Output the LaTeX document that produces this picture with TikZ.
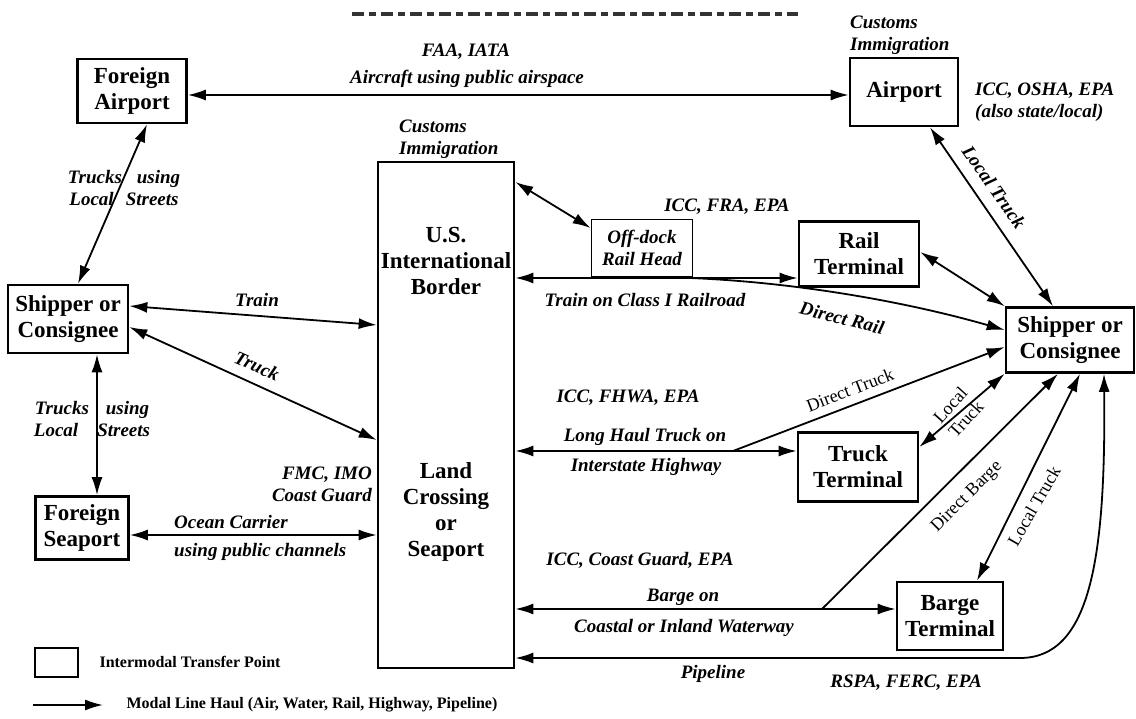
\documentclass[tikz,border=0pt]{standalone}
\usepackage{fontspec}
\setmainfont{Liberation Serif}
\usetikzlibrary{arrows.meta}
\newcommand{\boxfont}{\fontsize{23}{26}\selectfont\bfseries}
\newcommand{\modefont}{\fontsize{19}{22}\selectfont\bfseries\itshape}
\newcommand{\agencyfont}{\fontsize{19}{22}\selectfont\bfseries\itshape}
\newcommand{\plainfont}{\fontsize{18}{21}\selectfont}
\newcommand{\keyfont}{\fontsize{16}{18}\selectfont\bfseries}
\tikzset{
  hub/.style={draw,line width=2.6pt,fill=white,align=center,font=\boxfont,inner sep=0pt},
  haul/.style={line width=1.8pt,{Latex[length=18pt,width=11pt]}-{Latex[length=18pt,width=11pt]}},
  one/.style={line width=1.8pt,-{Latex[length=18pt,width=11pt]}},
  mode/.style={font=\modefont,align=center,inner sep=1pt},
  agency/.style={font=\agencyfont,align=center,inner sep=1pt},
  side/.style={font=\plainfont,align=center,inner sep=1pt}}

\begin{document}
\begin{tikzpicture}[x=1pt,y=-1pt]
  \useasboundingbox (0,0) rectangle (1136,719);
  \draw[line width=4.5pt,dash pattern=on 12pt off 5pt on 7pt off 5pt,black!80] (352,14) -- (798,14);
  % transfer points
  \node[hub,minimum width=109pt,minimum height=64pt] (fairport) at (132,91) {Foreign\\Airport};
  \node[hub,minimum width=108pt,minimum height=68pt] (airport) at (904,92) {Airport};
  \node[hub,minimum width=120pt,minimum height=68pt] (lship) at (68,319) {Shipper or\\Consignee};
  \node[hub,minimum width=93pt,minimum height=63pt] (fseaport) at (82,528) {Foreign\\Seaport};
  \node[hub,minimum width=136pt,minimum height=506pt] (border) at (446,415) {};
  \node[font=\boxfont,align=center] (usborder) at (446,261) {U.S.\\International\\Border};
  \node[font=\boxfont,align=center] (landsea) at (446,512) {Land\\Crossing\\or\\Seaport};
  \node[hub,line width=1.8pt,font=\modefont,minimum width=101pt,minimum height=57pt] (offdock) at (642,248) {Off-dock\\Rail Head};
  \node[hub,minimum width=120pt,minimum height=65pt] (rail) at (859,254) {Rail\\Terminal};
  \node[hub,minimum width=128pt,minimum height=65pt] (rship) at (1070,340) {Shipper or\\Consignee};
  \node[hub,minimum width=120pt,minimum height=69pt] (truckt) at (858,467) {Truck\\Terminal};
  \node[hub,minimum width=106pt,minimum height=68pt] (barget) at (950,616) {Barge\\Terminal};
  % line haul
  \draw[haul] (fairport.east |- 0,95) -- (airport.west |- 0,95);
  \draw[haul] (fairport.south -| 147,0) -- (lship.north -| 78,0);
  \draw[haul] (lship.east |- 0,306) -- (border.west |- 0,325);
  \draw[haul] (lship.east |- 0,327) -- (border.west |- 0,440);
  \draw[haul] (lship.south -| 97,0) -- (fseaport.north -| 97,0);
  \draw[haul] (fseaport.east |- 0,535) -- (border.west |- 0,535);
  \draw[haul] (border.east |- 0,182) -- (offdock.west |- 0,228);
  \draw[haul] (border.east |- 0,278) -- (rail.west |- 0,278);
  \coordinate (drs) at (690,278);
  \draw[one] (drs) .. controls (790,282) and (900,300) .. (rship.west |- 0,330);
  \draw[haul] (rail.east |- 0,252) -- (rship.north west);
  \draw[haul] (airport.south -| 930,0) -- (rship.north -| 1053,0);
  \draw[haul] (border.east |- 0,451) -- (truckt.west |- 0,451);
  \coordinate (dts) at (733,451);
  \draw[one] (dts) -- (rship.west |- 0,347);
  \draw[haul] (truckt.east |- 0,447) -- (rship.south west);
  \draw[haul] (border.east |- 0,609) -- (barget.west |- 0,609);
  \coordinate (dbs) at (822,609);
  \draw[one] (dbs) -- (rship.south -| 1058,0);
  \draw[haul] (rship.south -| 1080,0) -- (barget.north -| 977,0);
  \draw[haul] (rship.south -| 1104,0) .. controls (1106,560) and (1090,658) .. (1020,658) -- (border.east |- 0,658);
  % labels
  \node[agency] (faa) at (466,52) {FAA, IATA};
  \node[mode] (aircraft) at (467,79) {Aircraft using public airspace};
  \node[mode,anchor=west,align=left] (custA) at (849,35) {Customs\\Immigration};
  \node[mode,anchor=west,align=left] (custB) at (398,139) {Customs\\Immigration};
  \node[agency,anchor=west,align=left] (icco) at (974,102) {ICC, OSHA, EPA\\(also state/local)};
  \node[mode,rotate=-55] (ltA) at (994,187) {Local Truck};
  \node[agency] (iccf) at (727,207) {ICC, FRA, EPA};
  \node[mode] (classone) at (645,300) {Train on Class I Railroad};
  \node[mode,rotate=-14] (drail) at (842,318) {Direct Rail};
  \node[mode] (trucksA) at (124,188) {Trucks\hspace{15pt}using\\Local\hspace{12pt}Streets};
  \node[mode] (train) at (257,300) {Train};
  \node[mode,rotate=-24] (truck) at (257,366) {Truck};
  \node[mode] (trucksB) at (92,419) {Trucks\hspace{17pt}using\\Local\hspace{19pt}Streets};
  \node[agency,anchor=east,align=right] (fmc) at (373,484) {FMC, IMO\\Coast Guard};
  \node[mode,anchor=west] (ocean) at (173,522) {Ocean Carrier};
  \node[mode,anchor=west] (channels) at (173,552) {using public channels};
  \node[agency] (iccw) at (628,398) {ICC, FHWA, EPA};
  \node[mode] (longhaul) at (645,437) {Long Haul Truck on};
  \node[mode] (interstate) at (646,467) {Interstate Highway};
  \node[side,rotate=21] (dtruck) at (850,390) {Direct Truck};
  \node[side,rotate=48] (ltB) at (958,412) {Local\\Truck};
  \node[side,rotate=45] (dbarge) at (967,497) {Direct Barge};
  \node[side,rotate=60] (ltC) at (1034,506) {Local Truck};
  \node[agency] (iccg) at (640,560) {ICC, Coast Guard, EPA};
  \node[mode] (bargeon) at (683,597) {Barge on};
  \node[mode] (coastal) at (684,628) {Coastal or Inland Waterway};
  \node[mode] (pipe) at (713,674) {Pipeline};
  \node[agency] (rspa) at (906,683) {RSPA, FERC, EPA};
  % key
  \node[draw,line width=2pt,minimum width=43pt,minimum height=29pt,inner sep=0pt] (keybox) at (56.5,662.5) {};
  \node[font=\keyfont,anchor=west] (keyboxtxt) at (96,662) {Intermodal Transfer Point};
  \coordinate (keyA) at (33,705);
  \coordinate (keyB) at (103,705);
  \draw[one] (keyA) -- (keyB);
  \node[font=\keyfont,anchor=west] (keyarrtxt) at (123,705) {Modal Line Haul (Air, Water, Rail, Highway, Pipeline)};
\end{tikzpicture}
\end{document}
